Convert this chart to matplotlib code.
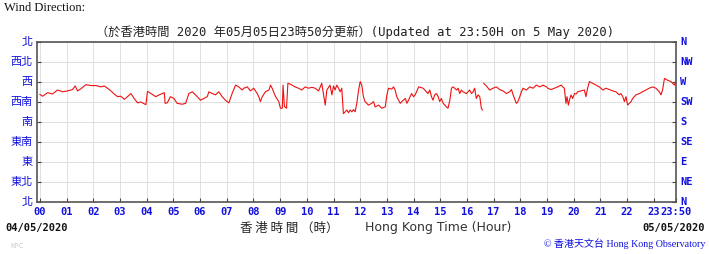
import numpy as np
import matplotlib
matplotlib.use("Agg")
import matplotlib.pyplot as plt

# ---- data -------------------------------------------------------------
hours = [0.00, 0.10, 0.29, 0.47, 0.66, 0.85, 1.04, 1.22, 1.32, 1.41, 1.54, 1.72, 1.91, 2.10,
         2.28, 2.41, 2.53, 2.66, 2.78, 2.91, 3.03, 3.16, 3.28, 3.41, 3.53, 3.66, 3.78, 3.97,
         4.03, 4.16, 4.34, 4.47, 4.66, 4.69, 4.77, 4.89, 5.02, 5.14, 5.33, 5.46, 5.58, 5.71,
         5.83, 5.89, 6.02, 6.14, 6.27, 6.33, 6.46, 6.58, 6.70, 6.83, 6.95, 7.08, 7.20, 7.33,
         7.45, 7.58, 7.64, 7.77, 7.89, 8.01, 8.14, 8.20, 8.26, 8.33, 8.45, 8.58, 8.64, 8.70,
         8.83, 8.95, 9.01, 9.08, 9.11, 9.16, 9.24, 9.29, 9.39, 9.56, 9.69, 9.81, 9.94, 10.06,
         10.19, 10.31, 10.44, 10.56, 10.62, 10.69, 10.75, 10.87, 10.94, 11.00, 11.06, 11.12,
         11.19, 11.25, 11.31, 11.37, 11.44, 11.50, 11.56, 11.62, 11.69, 11.75, 11.81, 11.87,
         11.94, 12.00, 12.06, 12.12, 12.18, 12.31, 12.43, 12.50, 12.56, 12.69, 12.81, 12.94,
         13.00, 13.06, 13.18, 13.25, 13.31, 13.37, 13.44, 13.50, 13.56, 13.69, 13.75, 13.81,
         13.87, 13.93, 14.00, 14.06, 14.19, 14.36, 14.48, 14.54, 14.61, 14.67, 14.73, 14.79,
         14.86, 14.92, 14.98, 15.04, 15.11, 15.17, 15.23, 15.29, 15.36, 15.42, 15.48, 15.54,
         15.61, 15.67, 15.73, 15.79, 15.85, 15.98, 16.10, 16.17, 16.23, 16.29, 16.35, 16.42,
         16.48, 16.54, 16.58, 16.60, 16.63, 16.73, 16.85, 16.98, 17.10, 17.23, 17.35, 17.48,
         17.60, 17.67, 17.73, 17.85, 17.91, 17.98, 18.04, 18.10, 18.23, 18.35, 18.48, 18.60,
         18.73, 18.85, 18.98, 19.03, 19.15, 19.28, 19.40, 19.53, 19.59, 19.65, 19.71, 19.75,
         19.80, 19.84, 19.90, 19.96, 20.03, 20.09, 20.15, 20.28, 20.40, 20.46, 20.52, 20.59,
         20.71, 20.84, 20.96, 21.09, 21.21, 21.34, 21.46, 21.58, 21.71, 21.77, 21.84, 21.90,
         21.96, 22.02, 22.15, 22.21, 22.33, 22.46, 22.58, 22.71, 22.83, 22.96, 23.08, 23.21,
         23.27, 23.33, 23.40, 23.52, 23.64, 23.71, 23.77, 23.83]
direction_deg = [242, 238, 246, 243, 252, 248, 250, 253, 261, 250, 255, 264, 262, 262,
                 259, 261, 256, 250, 243, 237, 238, 231, 237, 244, 233, 223, 225, 219,
                 249, 244, 237, 241, 246, 222, 223, 237, 233, 222, 220, 222, 244, 248,
                 241, 237, 229, 233, 237, 248, 244, 241, 248, 237, 229, 223, 244, 263,
                 259, 252, 256, 259, 250, 256, 244, 237, 226, 237, 248, 252, 263, 256,
                 237, 226, 211, 211, 263, 215, 211, 267, 265, 259, 256, 252, 259, 256,
                 258, 256, 250, 267, 244, 218, 252, 263, 241, 261, 252, 263,
                 256, 248, 256, 199, 203, 207, 201, 207, 203, 208, 203, 221,
                 252, 271, 263, 237, 226, 218, 222, 226, 214, 218, 211, 214,
                 241, 256, 254, 259, 252, 237, 229, 222, 226, 233, 222, 229,
                 237, 244, 237, 241, 259, 256, 248, 244, 252, 237, 229, 241,
                 244, 237, 226, 233, 222, 218, 214, 211, 229, 256, 259, 256,
                 252, 256, 244, 252, 248, 244, 252, 244, 248, 256, 233, 241,
                 237, 211, 207, np.nan, 267, 261, 252, 256, 259, 253, 250, 244,
                 248, 253, 241, 222, 226, 237, 248, 256, 252, 259, 256, 263,
                 259, 263, 259, 256, 253, 256, 259, 263, 259, 256, 222, 237,
                 218, 229, 241, 233, 244, 243, 248, 250, 252, 237, 256, 271,
                 267, 263, 259, 252, 256, 253, 250, 248, 241, 244, 237, 226,
                 237, 218, 226, 233, 241, 244, 248, 252, 256, 259, 256, 248,
                 241, 252, 278, 274, 271, 267, 263, 271]

x_ticks = list(range(24)) + [23 + 50 / 60]
x_labels = [f"{h:02d}" for h in range(24)] + ["23:50"]
y_ticks = [0, 45, 90, 135, 180, 225, 270, 315, 360]
y_labels_en = ["N", "NE", "E", "SE", "S", "SW", "W", "NW", "N"]
y_labels_zh = ["北", "東北", "東", "東南", "南", "西南", "西", "西北", "北"]

# ---- figure -----------------------------------------------------------
W, H = 709, 254
fig = plt.figure(figsize=(W / 100, H / 100), dpi=100)
fig.patch.set_facecolor("white")

ax_l, ax_r, ax_t, ax_b = 37, 676, 42, 202
ax = fig.add_axes([ax_l / W, 1 - ax_b / H, (ax_r - ax_l) / W, (ax_b - ax_t) / H])

blue = "#1010e0"
zh_font = ["Noto Sans CJK TC", "DejaVu Sans"]
mono = ["DejaVu Sans Mono", "Noto Sans CJK TC"]

ax.plot(hours, direction_deg, color="#ee1111", lw=0.8, zorder=3)

ax.set_xlim(-0.11, 23 + 50 / 60)
ax.set_ylim(0, 360)
ax.set_xticks(x_ticks)
ax.set_yticks(y_ticks)
ax.set_xticklabels([])
ax.set_yticklabels([])
ax.tick_params(axis="both", direction="in", length=3, width=0.8, color="#444444")
ax.tick_params(axis="y", right=True, left=True)
ax.grid(True, color="#e0e0e0", lw=0.7, zorder=0)
for s in ax.spines.values():
    s.set_color("#555555")
    s.set_linewidth(1.2)

def px(x, y):
    return x / W, 1 - y / H

# x tick labels
for t, lab in zip(x_ticks, x_labels):
    xp = ax_l + (t + 0.11) / (23 + 50 / 60 + 0.11) * (ax_r - ax_l)
    fig.text(*px(xp, 212), lab, color=blue, fontsize=7.5, fontweight="bold",
             family=mono, ha="center", va="center")

# y labels
for v, en, zh in zip(y_ticks, y_labels_en, y_labels_zh):
    yp = ax_b - v / 360 * (ax_b - ax_t)
    fig.text(*px(680, yp), en, color=blue, fontsize=7.5, fontweight="bold",
             family=mono, ha="left", va="center")
    fig.text(*px(33, yp), zh, color=blue, fontsize=8,
             family=zh_font, ha="right", va="center")

# top texts
fig.text(*px(4, 8), "Wind Direction:", fontsize=9, family=["Liberation Serif", "DejaVu Serif"],
         color="#111111", ha="left", va="center")
fig.text(*px(355, 32), "（於香港時間 2020 年05月05日23時50分更新）(Updated at 23:50H on 5 May 2020)",
         fontsize=8.8, family=mono, color="#222222", ha="center", va="center")

# bottom texts
fig.text(*px(5, 228), "04/05/2020", fontsize=7.5, fontweight="bold", family=mono,
         color="#111111", ha="left", va="center")
fig.text(*px(705, 228), "05/05/2020", fontsize=7.5, fontweight="bold", family=mono,
         color="#111111", ha="right", va="center")
fig.text(*px(289, 228), "香 港 時 間 （時）", fontsize=9, family=zh_font,
         color="#222222", ha="center", va="center")
fig.text(*px(365, 228), "Hong Kong Time (Hour)", fontsize=9, family=["DejaVu Sans"],
         color="#333333", ha="left", va="center")
fig.text(*px(10, 246), "KPC", fontsize=5, family=["DejaVu Sans"],
         color="#cccccc", ha="left", va="center")
fig.text(*px(705, 244), "© 香港天文台 Hong Kong Observatory", fontsize=7.2,
         family=["Liberation Serif", "Noto Sans CJK TC"], color=blue,
         ha="right", va="center")

fig.savefig("out.png", dpi=100)
